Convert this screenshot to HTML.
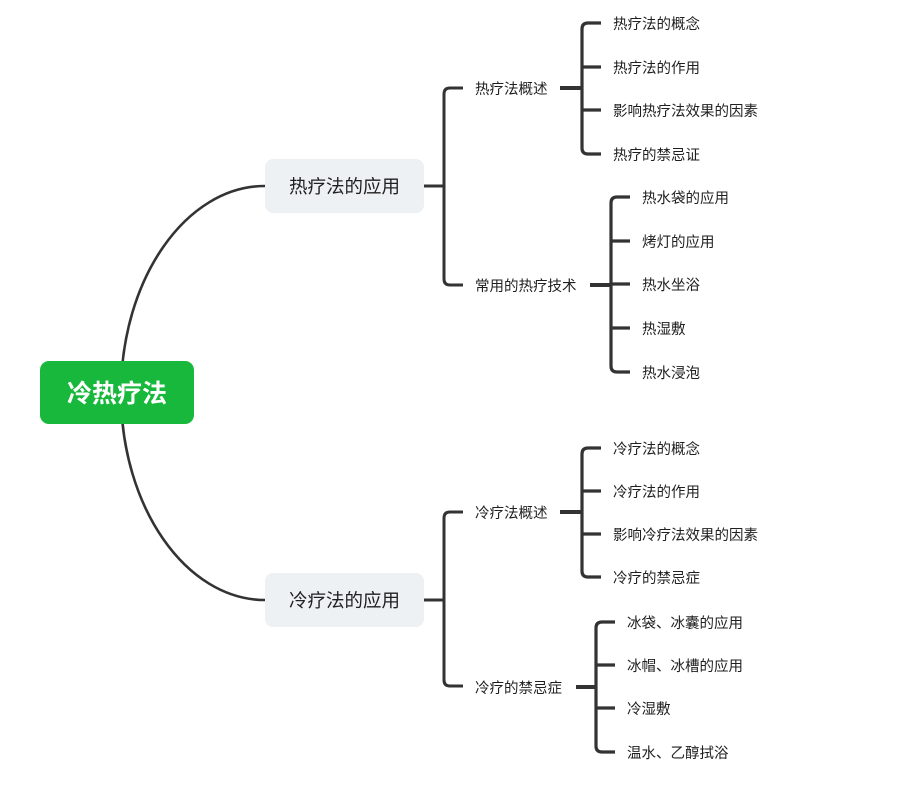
<!DOCTYPE html>
<html>
<head>
<meta charset="utf-8">
<style>
  html,body{margin:0;padding:0;background:#fff;}
  body{width:903px;height:792px;position:relative;overflow:hidden;
    font-family:"Liberation Sans","Noto Sans CJK SC","WenQuanYi Zen Hei",sans-serif;}
  svg{position:absolute;left:0;top:0;}
  .t{position:absolute;white-space:nowrap;font-size:14.5px;color:#1f1f1f;height:20px;line-height:20px;margin-top:3px;}
  .box{position:absolute;background:#eef1f4;border-radius:8px;text-align:center;color:#1f1f1f;font-size:18.5px;}
  .box span{position:relative;top:1px;}
  .root{position:absolute;background:#17b83c;border-radius:9px;text-align:center;color:#fff;font-size:25px;font-weight:bold;}
  .root span{position:relative;top:2px;}
</style>
</head>
<body>
<svg width="903" height="792" viewBox="0 0 903 792">
  <g fill="none" stroke="#333" stroke-linecap="butt" stroke-linejoin="round">
    <path d="M121,393 C121,279 186,186 265,186" stroke-width="2.6"/>
    <path d="M121,393 C121,507 186,600 265,600" stroke-width="2.6"/>

    <path d="M424,186 H444" stroke-width="3"/>
    <path d="M463,88 H450 Q444,88 444,94 V279 Q444,285 450,285 H463" stroke-width="3"/>

    <path d="M560,88 H582" stroke-width="4"/>
    <path d="M601,23 H588 Q582,23 582,29 V148 Q582,154 588,154 H601" stroke-width="3.2"/>
    <path d="M582,67 H601 M582,110 H601" stroke-width="3.2"/>

    <path d="M590,285 H611" stroke-width="4"/>
    <path d="M630,197 H617 Q611,197 611,203 V366 Q611,372 617,372 H630" stroke-width="3.2"/>
    <path d="M611,241 H630 M611,284 H630 M611,328 H630" stroke-width="3.2"/>

    <path d="M424,600 H444" stroke-width="3"/>
    <path d="M463,512 H450 Q444,512 444,518 V680 Q444,686 450,686 H463" stroke-width="3"/>

    <path d="M560,512 H582" stroke-width="4"/>
    <path d="M601,448 H588 Q582,448 582,454 V571 Q582,577 588,577 H601" stroke-width="3.2"/>
    <path d="M582,491 H601 M582,534 H601" stroke-width="3.2"/>

    <path d="M576,687 H596" stroke-width="4"/>
    <path d="M615,622 H602 Q596,622 596,628 V746 Q596,752 602,752 H615" stroke-width="3.2"/>
    <path d="M596,665 H615 M596,708 H615" stroke-width="3.2"/>
  </g>
</svg>

<div class="root" style="left:40px;top:361px;width:154px;height:63px;line-height:63px;"><span>冷热疗法</span></div>

<div class="box" style="left:265px;top:159px;width:159px;height:54px;line-height:54px;"><span>热疗法的应用</span></div>
<div class="box" style="left:265px;top:573px;width:159px;height:54px;line-height:54px;"><span>冷疗法的应用</span></div>

<div class="t" style="left:475px;top:77px;">热疗法概述</div>
<div class="t" style="left:475px;top:274px;">常用的热疗技术</div>
<div class="t" style="left:475px;top:501px;">冷疗法概述</div>
<div class="t" style="left:475px;top:676px;">冷疗的禁忌症</div>

<div class="t" style="left:613px;top:12px;">热疗法的概念</div>
<div class="t" style="left:613px;top:56px;">热疗法的作用</div>
<div class="t" style="left:613px;top:99px;">影响热疗法效果的因素</div>
<div class="t" style="left:613px;top:143px;">热疗的禁忌证</div>

<div class="t" style="left:642px;top:186px;">热水袋的应用</div>
<div class="t" style="left:642px;top:230px;">烤灯的应用</div>
<div class="t" style="left:642px;top:273px;">热水坐浴</div>
<div class="t" style="left:642px;top:317px;">热湿敷</div>
<div class="t" style="left:642px;top:361px;">热水浸泡</div>

<div class="t" style="left:613px;top:437px;">冷疗法的概念</div>
<div class="t" style="left:613px;top:480px;">冷疗法的作用</div>
<div class="t" style="left:613px;top:523px;">影响冷疗法效果的因素</div>
<div class="t" style="left:613px;top:566px;">冷疗的禁忌症</div>

<div class="t" style="left:627px;top:611px;">冰袋、冰囊的应用</div>
<div class="t" style="left:627px;top:654px;">冰帽、冰槽的应用</div>
<div class="t" style="left:627px;top:697px;">冷湿敷</div>
<div class="t" style="left:627px;top:741px;">温水、乙醇拭浴</div>
</body>
</html>
